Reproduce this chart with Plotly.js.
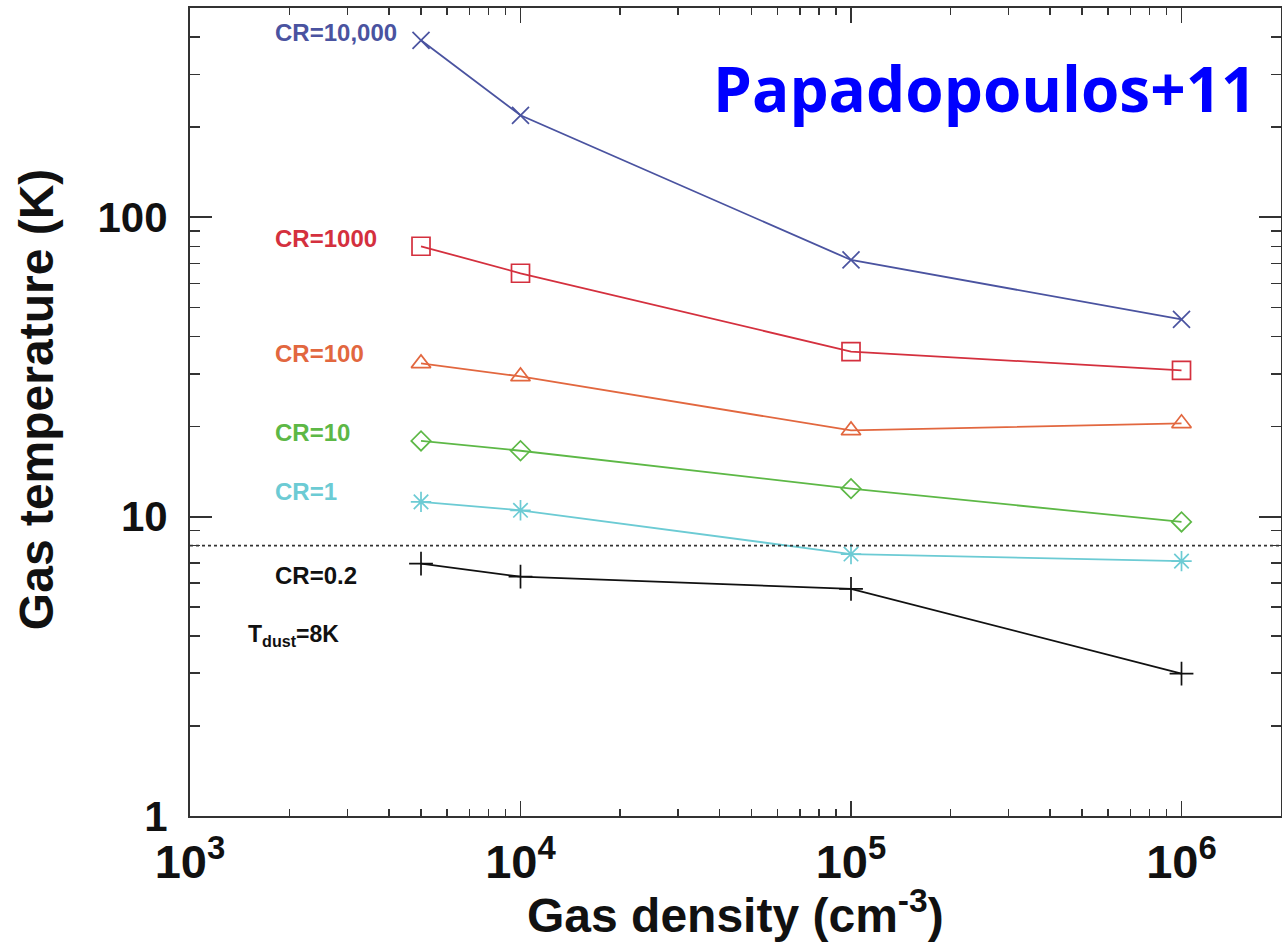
<!DOCTYPE html>
<html>
<head>
<meta charset="utf-8">
<script src="https://cdn.plot.ly/plotly-3.0.1.min.js"></script>
<style>html,body{margin:0;padding:0;background:#fff;}#chart{width:1282px;height:946px;}</style>
</head>
<body>
<div id="chart"></div>
<script>
// Data
const density = [5000, 10000, 100000, 1000000];
const seriesNames = ["CR=10,000", "CR=1000", "CR=100", "CR=10", "CR=1", "CR=0.2"];
const tCR10000 = [390, 219, 72, 45.6];
const tCR1000 = [80, 65, 35.6, 30.8];
const tCR100 = [32.5, 29.4, 19.4, 20.5];
const tCR10 = [17.9, 16.6, 12.4, 9.6];
const tCR1 = [11.2, 10.5, 7.5, 7.1];
const tCR02 = [6.97, 6.3, 5.74, 2.99];
const tDust = 8;
const xTickVals = [1000, 10000, 100000, 1000000];
const xTickText = ["10<sup>3</sup>", "10<sup>4</sup>", "10<sup>5</sup>", "10<sup>6</sup>"];
const yTickVals = [1, 10, 100];
const yTickText = ["1", "10", "100"];

const allSeries = [tCR10000, tCR1000, tCR100, tCR10, tCR1, tCR02];
const colors = ["#4a53a0", "#d4303e", "#e2673f", "#5db846", "#6ccbd4", "#111111"];
const symbols = ["x-thin-open", "square-open", "triangle-up-open", "diamond-open", "asterisk-open", "cross-thin-open"];
const sizes = [17, 18, 17, 15, 17, 17];
const labelY = [0.970, 0.715, 0.573, 0.475, 0.401, 0.298];

const traces = allSeries.map((ys, i) => ({
  x: density, y: ys, type: "scatter", mode: "lines+markers", name: seriesNames[i],
  line: {color: colors[i], width: 1.8},
  marker: {symbol: symbols[i], size: sizes[i], color: colors[i], line: {color: colors[i], width: 1.7}},
  showlegend: false
}));

function minorVals(lo, hi) {
  const out = [];
  for (let d = lo; d < hi; d++) for (let m = 2; m <= 9; m++) out.push(m * Math.pow(10, d));
  return out;
}

const font = "Liberation Sans, Arial, Helvetica, sans-serif";

const annotations = seriesNames.map((n, i) => ({
  text: "<b>" + n + "</b>", xref: "paper", yref: "paper", x: 0.076, y: labelY[i],
  xanchor: "left", yanchor: "middle", showarrow: false,
  font: {family: font, size: 24, color: colors[i]}
}));
annotations.push({
  text: "<b>T<sub>dust</sub>=8K</b>", xref: "paper", yref: "paper", x: 0.051, y: 0.223,
  xanchor: "left", yanchor: "middle", showarrow: false,
  font: {family: font, size: 23, color: "#111"}
});
annotations.push({
  text: "<b>Papadopoulos+11</b>", xref: "paper", yref: "paper", x: 0.98, y: 0.901,
  xanchor: "right", yanchor: "middle", showarrow: false,
  font: {family: "Open Sans, Noto Sans, sans-serif", size: 62, color: "#0000ff"}
});
annotations.push({
  text: "<b>Gas density (cm<sup>-3</sup>)</b>", xref: "paper", yref: "paper", x: 0.5, y: -0.119,
  xanchor: "center", yanchor: "middle", showarrow: false,
  font: {family: font, size: 48, color: "#111"}
});
annotations.push({
  text: "<b>Gas temperature (K)</b>", xref: "paper", yref: "paper", x: -0.14, y: 0.515,
  xanchor: "center", yanchor: "middle", showarrow: false, textangle: -90,
  font: {family: font, size: 48, color: "#111"}
});

const layout = {
  width: 1282, height: 946,
  margin: {l: 190, r: 1, t: 8, b: 130},
  paper_bgcolor: "#fff", plot_bgcolor: "#fff",
  showlegend: false,
  xaxis: {
    type: "log", range: [3, Math.log10(2e6)],
    tickmode: "array", tickvals: xTickVals, ticktext: xTickText,
    ticks: "inside", ticklen: 15, tickwidth: 1.8, tickcolor: "#333",
    showline: true, linecolor: "#333", linewidth: 2, mirror: "allticks",
    showgrid: false, zeroline: false,
    tickfont: {family: font, size: 47, color: "#111", weight: "bold"},
    ticklabelstandoff: 4,
    minor: {tickmode: "array", tickvals: minorVals(3, 7).filter(v => v < 2e6), ticks: "inside", ticklen: 7, tickwidth: 1.5, tickcolor: "#333", showgrid: false}
  },
  yaxis: {
    type: "log", range: [0, Math.log10(500)],
    tickmode: "array", tickvals: yTickVals, ticktext: yTickText,
    ticks: "inside", ticklen: 22, tickwidth: 1.8, tickcolor: "#333",
    showline: true, linecolor: "#333", linewidth: 2, mirror: "allticks",
    showgrid: false, zeroline: false,
    tickfont: {family: font, size: 42, color: "#111", weight: "bold"},
    ticklabelstandoff: 12,
    minor: {tickmode: "array", tickvals: minorVals(0, 3).filter(v => v <= 500), ticks: "inside", ticklen: 10, tickwidth: 1.5, tickcolor: "#333", showgrid: false}
  },
  shapes: [{
    type: "line", xref: "paper", yref: "y", x0: 0, x1: 1, y0: tDust, y1: tDust,
    line: {color: "#333", width: 1.6, dash: "dot"}
  }],
  annotations: annotations
};

Plotly.newPlot("chart", traces, layout, {staticPlot: true, displayModeBar: false});
</script>
</body>
</html>
